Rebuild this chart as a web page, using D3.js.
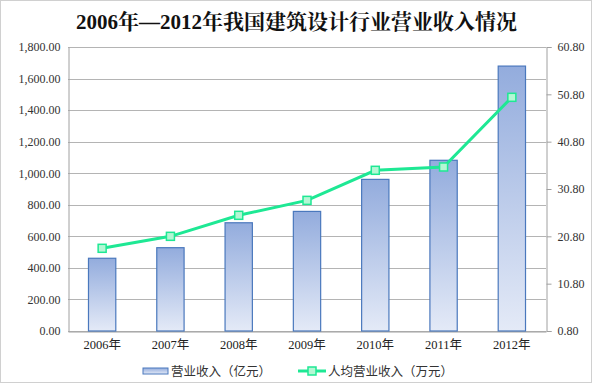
<!DOCTYPE html>
<html><head><meta charset="utf-8">
<script src="https://cdn.jsdelivr.net/npm/d3@7"></script>
<style>body{margin:0;background:#fff}svg{display:block}</style>
</head><body>
<script>
const categories = ["2006年","2007年","2008年","2009年","2010年","2011年","2012年"];
const revenue = [461, 528, 686, 758, 961, 1082, 1679];
const perCapita = [18.27, 20.8, 25.24, 28.4, 34.75, 35.45, 50.17];
const leftTicks = [0,200,400,600,800,1000,1200,1400,1600,1800];
const rightTicks = [0.8,10.8,20.8,30.8,40.8,50.8,60.8];
const seriesNames = ["营业收入（亿元）","人均营业收入（万元）"];
const title = "2006年—2012年我国建筑设计行业营业收入情况";

const W=592,H=383;
const m={l:68,r:46,t:47,b:52};
const svg=d3.select("body").append("svg").attr("width",W).attr("height",H);
svg.append("rect").attr("x",0.5).attr("y",0.5).attr("width",W-1).attr("height",H-1).attr("fill","#fff").attr("stroke","#d0d0d0");
const defs=svg.append("defs");
const g1=defs.append("linearGradient").attr("id","barg").attr("x1",0).attr("y1",0).attr("x2",0).attr("y2",1);
g1.append("stop").attr("offset","0%").attr("stop-color","#93acdd");
g1.append("stop").attr("offset","100%").attr("stop-color","#e4eaf7");

const x=d3.scaleBand().domain(categories).range([m.l,W-m.r]).paddingInner(0.6).paddingOuter(0.3);
const y=d3.scaleLinear().domain([0,1800]).range([H-m.b,m.t]);
const y2=d3.scaleLinear().domain([0.8,60.8]).range([H-m.b,m.t]);
const font="'Liberation Serif','Times New Roman','Noto Sans CJK SC',serif";

svg.append("text").attr("x",296.5).attr("y",29).attr("text-anchor","middle")
  .style("font-family","'Liberation Serif','Noto Serif CJK SC','Noto Sans CJK SC',serif").style("font-weight","bold").style("font-size","21px").attr("fill","#111").text(title);

// gridlines
svg.append("g").selectAll("line").data(leftTicks).join("line")
  .attr("x1",m.l).attr("x2",W-m.r).attr("y1",d=>Math.round(y(d))+0.5).attr("y2",d=>Math.round(y(d))+0.5)
  .attr("stroke","#b4b4b4").attr("stroke-width",1);

// left axis
const ax=d3.axisLeft(y).tickValues(leftTicks).tickSize(0).tickPadding(8).tickFormat(d3.format(",.2f"));
const gl=svg.append("g").attr("transform",`translate(${m.l+0.5},0)`).call(ax);
gl.select(".domain").attr("stroke","#a0a0a0");
gl.selectAll("text").style("font-family",font).style("font-size","12px").attr("fill","#333");

// right axis
const ar=d3.axisRight(y2).tickValues(rightTicks).tickSize(5).tickPadding(6).tickFormat(d3.format(".2f"));
const gr=svg.append("g").attr("transform",`translate(${W-m.r+0.5},0)`).call(ar);
gr.select(".domain").attr("stroke","#a0a0a0");
gr.selectAll(".tick line").attr("stroke","#a0a0a0");
gr.selectAll("text").style("font-family",font).style("font-size","12px").attr("fill","#333");

// bottom axis
const ab=d3.axisBottom(x).tickSize(0).tickPadding(9);
const gb=svg.append("g").attr("transform",`translate(0,${H-m.b+0.5})`).call(ab);
gb.select(".domain").attr("stroke","#a0a0a0");
gb.selectAll("text").style("font-family",font).style("font-size","12.5px").attr("fill","#222");

// bars
svg.append("g").selectAll("rect").data(revenue).join("rect")
  .attr("x",(d,i)=>x(categories[i])).attr("width",x.bandwidth())
  .attr("y",d=>y(d)).attr("height",d=>y(0)-y(d))
  .attr("fill","url(#barg)").attr("stroke","#4a78bd").attr("stroke-width",1.2);

// line
const line=d3.line().x((d,i)=>x(categories[i])+x.bandwidth()/2).y(d=>y2(d));
svg.append("path").datum(perCapita).attr("d",line).attr("fill","none").attr("stroke","#1ee894").attr("stroke-width",3);
svg.append("g").selectAll("rect").data(perCapita).join("rect")
  .attr("x",(d,i)=>x(categories[i])+x.bandwidth()/2-4).attr("y",d=>y2(d)-4).attr("width",8).attr("height",8)
  .attr("fill","#b4f7d4").attr("stroke","#1ee894").attr("stroke-width",1.5);

// legend
const ly=372;
svg.append("rect").attr("x",143).attr("y",ly-4).attr("width",25).attr("height",6).attr("fill","url(#barg)").attr("stroke","#4a78bd");
svg.append("text").attr("x",171).attr("y",ly+4).text(seriesNames[0]).style("font-family","'Noto Sans CJK SC',sans-serif").style("font-size","12.5px").attr("fill","#333");
svg.append("line").attr("x1",298).attr("x2",326).attr("y1",ly-1).attr("y2",ly-1).attr("stroke","#1ee894").attr("stroke-width",3);
svg.append("rect").attr("x",308).attr("y",ly-5).attr("width",8).attr("height",8).attr("fill","#b4f7d4").attr("stroke","#1ee894").attr("stroke-width",1.5);
svg.append("text").attr("x",328).attr("y",ly+4).text(seriesNames[1]).style("font-family","'Noto Sans CJK SC',sans-serif").style("font-size","12.5px").attr("fill","#333");
</script>
</body></html>
